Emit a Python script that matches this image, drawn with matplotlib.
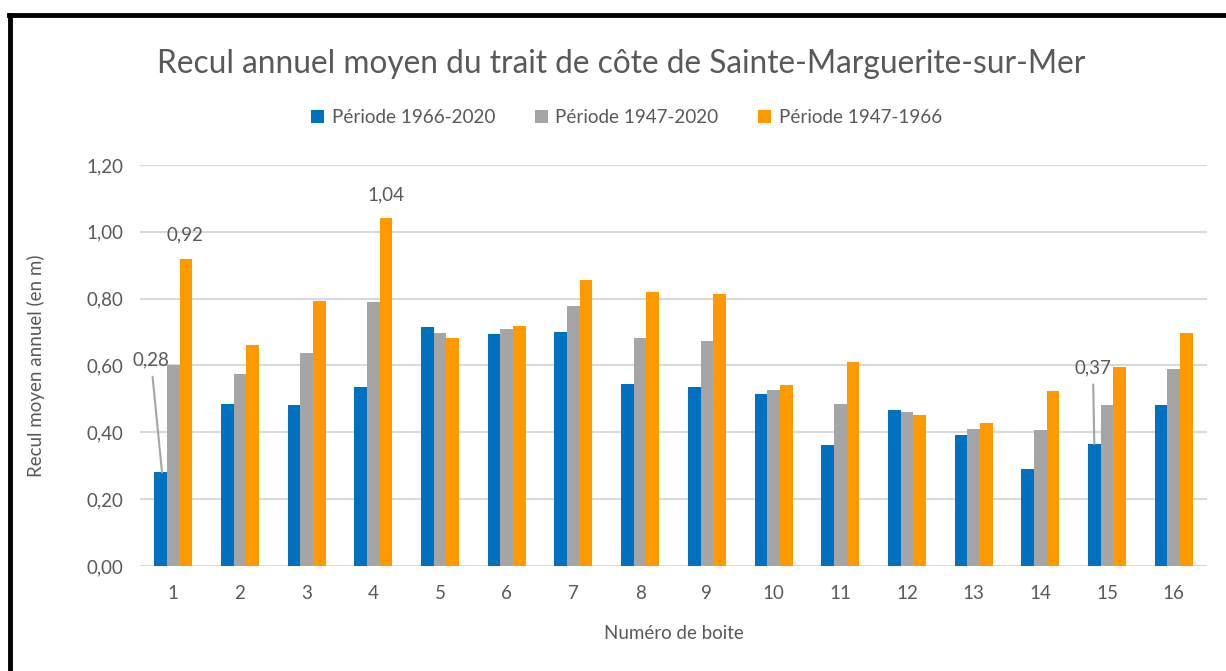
import numpy as np
from matplotlib import pyplot as plt
from matplotlib.lines import Line2D

# donnees
boites = [str(i) for i in range(1, 17)]
p1966_2020 = [0.28, 0.485, 0.482, 0.535, 0.715, 0.694, 0.701, 0.546,
              0.535, 0.514, 0.361, 0.468, 0.393, 0.290, 0.365, 0.482]
p1947_2020 = [0.601, 0.574, 0.637, 0.789, 0.697, 0.708, 0.779, 0.683,
              0.672, 0.528, 0.485, 0.460, 0.411, 0.407, 0.482, 0.590]
p1947_1966 = [0.92, 0.662, 0.793, 1.04, 0.683, 0.718, 0.857, 0.821,
              0.814, 0.542, 0.609, 0.453, 0.429, 0.525, 0.595, 0.697]
series = ["Période 1966-2020", "Période 1947-2020", "Période 1947-1966"]
couleurs = ["#0070c0", "#a5a5a5", "#ff9900"]
yticks = [0.0, 0.2, 0.4, 0.6, 0.8, 1.0, 1.2]

gris = "#595959"
plt.rcParams['font.family'] = ['Lato', 'DejaVu Sans']

fig = plt.figure(figsize=(12.26, 6.71), dpi=100)
ax = fig.add_axes([0.1142, 0.1565, 0.8703, 0.5976])

x = np.arange(len(boites))
w = 0.19
valeurs = [p1966_2020, p1947_2020, p1947_1966]
for k in range(3):
    ax.bar(x + (k - 1) * w, valeurs[k], w, color=couleurs[k], label=series[k], zorder=3)

ax.set_xlim(-0.5, len(boites) - 0.5)
ax.set_ylim(0, 1.2)
ax.set_yticks(yticks)
ax.set_yticklabels([("%.2f" % v).replace(".", ",") for v in yticks])
ax.set_xticks(x)
ax.set_xticklabels(boites)
ax.tick_params(axis='both', length=0, labelsize=13.5, labelcolor=gris)
ax.tick_params(axis='y', pad=12)
ax.tick_params(axis='x', pad=14)
ax.grid(axis='y', color="#d9d9d9", lw=1.5, zorder=0)
for s in ax.spines.values():
    s.set_visible(False)

ax.set_ylabel("Recul moyen annuel (en m)", fontsize=13.5, color=gris, labelpad=30)
ax.set_xlabel("Numéro de boite", fontsize=13.5, color=gris, labelpad=16)

# etiquettes de valeurs
def lab(v):
    return ("%.2f" % v).replace(".", ",")

ax.annotate(lab(p1947_1966[0]), (x[0] + w, p1947_1966[0]), xytext=(-1, 17),
            textcoords='offset points', ha='center', va='center', fontsize=13.5, color=gris)
ax.annotate(lab(p1947_1966[3]), (x[3] + w, p1947_1966[3]), xytext=(0, 17),
            textcoords='offset points', ha='center', va='center', fontsize=13.5, color=gris)
ax.annotate(lab(p1966_2020[0]), (x[0] - w + 0.02, p1966_2020[0]), xytext=(-8, 81),
            textcoords='offset points', ha='center', va='center', fontsize=13.5, color=gris,
            arrowprops=dict(arrowstyle='-', color="#a5a5a5", lw=1.5, shrinkA=4, shrinkB=0))
ax.annotate("0,37", (x[14] - w, p1966_2020[14]), xytext=(-1, 55),
            textcoords='offset points', ha='center', va='center', fontsize=13.5, color=gris,
            arrowprops=dict(arrowstyle='-', color="#a5a5a5", lw=1.5, shrinkA=4, shrinkB=0))

fig.suptitle("Recul annuel moyen du trait de côte de Sainte-Marguerite-sur-Mer",
             x=0.507, y=0.927, fontsize=22.8, color=gris)
fig.legend(loc='center', bbox_to_anchor=(0.511, 0.825), ncol=3, frameon=False,
           fontsize=13.6, labelcolor=gris, handlelength=0.7, handleheight=0.7,
           handletextpad=0.4, columnspacing=2.1)

# cadre noir
fig.add_artist(Line2D([0.007, 1.0], [0.977, 0.977], color='black', lw=3.5))
fig.add_artist(Line2D([0.0078, 0.0078], [0.0, 0.977], color='black', lw=3.5))

fig.savefig("out.png", dpi=100)
